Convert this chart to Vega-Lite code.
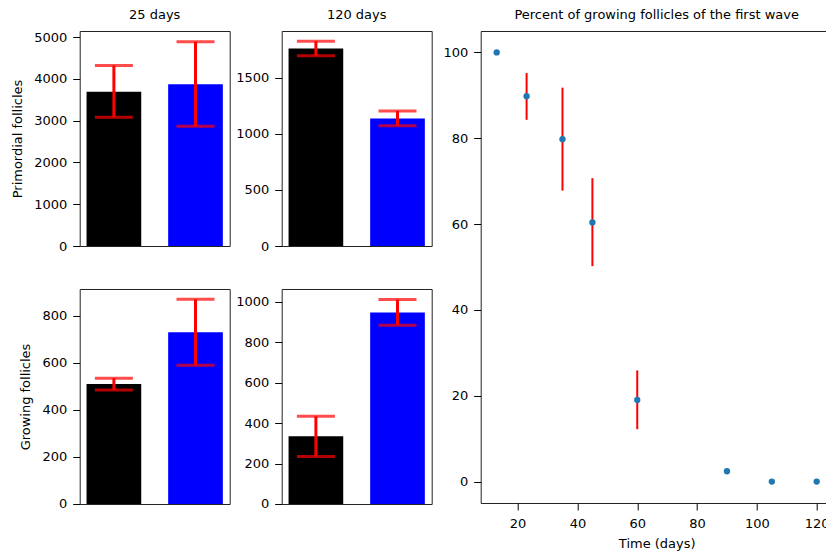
{
  "$schema": "https://vega.github.io/schema/vega-lite/v6.json",
  "padding": {"left": 10.7, "top": 8, "right": 0, "bottom": 0},
  "background": "white",
  "datasets": {
    "bars": [
      {"panel": "p25", "group": "A", "value": 3690, "lo": 3080, "hi": 4320},
      {"panel": "p25", "group": "B", "value": 3870, "lo": 2865, "hi": 4890},
      {"panel": "p120", "group": "A", "value": 1758, "lo": 1693, "hi": 1823},
      {"panel": "p120", "group": "B", "value": 1135, "lo": 1070, "hi": 1202},
      {"panel": "g25", "group": "A", "value": 510, "lo": 485, "hi": 535},
      {"panel": "g25", "group": "B", "value": 730, "lo": 590, "hi": 870},
      {"panel": "g120", "group": "A", "value": 335, "lo": 235, "hi": 434},
      {"panel": "g120", "group": "B", "value": 948, "lo": 885, "hi": 1012}
    ],
    "wave": [
      {"t": 13, "pct": 100, "lo": null, "hi": null},
      {"t": 23, "pct": 89.8, "lo": 84.3, "hi": 95.2},
      {"t": 35, "pct": 79.8, "lo": 67.8, "hi": 91.8},
      {"t": 45, "pct": 60.4, "lo": 50.2, "hi": 70.7},
      {"t": 60, "pct": 19, "lo": 12.2, "hi": 25.9},
      {"t": 90, "pct": 2.4, "lo": null, "hi": null},
      {"t": 105, "pct": 0, "lo": null, "hi": null},
      {"t": 120, "pct": 0, "lo": null, "hi": null}
    ]
  },
  "config": {
    "font": "DejaVu Sans",
    "view": {"stroke": "#222", "strokeWidth": 1},
    "axis": {
      "labelFont": "DejaVu Sans", "labelFontSize": 13, "labelColor": "#000",
      "titleFont": "DejaVu Sans", "titleFontSize": 13, "titleFontWeight": "normal", "titleColor": "#000",
      "tickColor": "#000", "tickSize": 7, "tickWidth": 1, "grid": false, "domain": false,
      "labelPadding": 6, "format": "d"
    },
    "title": {"font": "DejaVu Sans", "fontSize": 13, "fontWeight": "normal", "color": "#000", "anchor": "middle", "baseline": "alphabetic", "offset": 9},
    "bar": {"stroke": null},
    "tick": {"color": "red", "thickness": 3, "size": 38},
    "rule": {"color": "red"}
  },
  "spacing": 9,
  "hconcat": [
    {
      "spacing": 4,
      "hconcat": [
        {
          "spacing": 34,
          "vconcat": [
            {
              "width": 150, "height": 215,
              "title": "25 days",
              "data": {"name": "bars"},
              "transform": [{"filter": "datum.panel === 'p25'"}],
              "encoding": {
                "x": {"field": "group", "type": "nominal", "axis": null, "scale": {"paddingInner": 0.33, "paddingOuter": 0.084}}
              },
              "layer": [
                {"mark": "bar", "encoding": {
                  "y": {"field": "value", "type": "quantitative", "scale": {"domain": [0, 5145], "nice": false}, "axis": {"title": "Primordial follicles", "values": [0, 1000, 2000, 3000, 4000, 5000], "titlePadding": 9}},
                  "color": {"field": "group", "type": "nominal", "scale": {"domain": ["A", "B"], "range": ["#000000", "#0000ff"]}, "legend": null}}},
                {"mark": {"type": "rule", "strokeWidth": 3}, "encoding": {"y": {"field": "lo", "type": "quantitative"}, "y2": {"field": "hi"}}},
                {"mark": "tick", "encoding": {"y": {"field": "lo", "type": "quantitative"}}},
                {"mark": "tick", "encoding": {"y": {"field": "hi", "type": "quantitative"}}}
              ]
            },
            {
              "width": 150, "height": 215,
              "data": {"name": "bars"},
              "transform": [{"filter": "datum.panel === 'g25'"}],
              "encoding": {
                "x": {"field": "group", "type": "nominal", "axis": null, "scale": {"paddingInner": 0.33, "paddingOuter": 0.084}}
              },
              "layer": [
                {"mark": "bar", "encoding": {
                  "y": {"field": "value", "type": "quantitative", "scale": {"domain": [0, 914], "nice": false}, "axis": {"title": "Growing follicles", "values": [0, 200, 400, 600, 800], "titlePadding": 9}},
                  "color": {"field": "group", "type": "nominal", "scale": {"domain": ["A", "B"], "range": ["#000000", "#0000ff"]}, "legend": null}}},
                {"mark": {"type": "rule", "strokeWidth": 3}, "encoding": {"y": {"field": "lo", "type": "quantitative"}, "y2": {"field": "hi"}}},
                {"mark": "tick", "encoding": {"y": {"field": "lo", "type": "quantitative"}}},
                {"mark": "tick", "encoding": {"y": {"field": "hi", "type": "quantitative"}}}
              ]
            }
          ]
        },
        {
          "spacing": 34,
          "vconcat": [
            {
              "width": 150, "height": 215,
              "title": "120 days",
              "data": {"name": "bars"},
              "transform": [{"filter": "datum.panel === 'p120'"}],
              "encoding": {
                "x": {"field": "group", "type": "nominal", "axis": null, "scale": {"paddingInner": 0.33, "paddingOuter": 0.084}}
              },
              "layer": [
                {"mark": "bar", "encoding": {
                  "y": {"field": "value", "type": "quantitative", "scale": {"domain": [0, 1914], "nice": false}, "axis": {"title": null, "values": [0, 500, 1000, 1500]}},
                  "color": {"field": "group", "type": "nominal", "scale": {"domain": ["A", "B"], "range": ["#000000", "#0000ff"]}, "legend": null}}},
                {"mark": {"type": "rule", "strokeWidth": 3}, "encoding": {"y": {"field": "lo", "type": "quantitative"}, "y2": {"field": "hi"}}},
                {"mark": "tick", "encoding": {"y": {"field": "lo", "type": "quantitative"}}},
                {"mark": "tick", "encoding": {"y": {"field": "hi", "type": "quantitative"}}}
              ]
            },
            {
              "width": 150, "height": 215,
              "data": {"name": "bars"},
              "transform": [{"filter": "datum.panel === 'g120'"}],
              "encoding": {
                "x": {"field": "group", "type": "nominal", "axis": null, "scale": {"paddingInner": 0.33, "paddingOuter": 0.084}}
              },
              "layer": [
                {"mark": "bar", "encoding": {
                  "y": {"field": "value", "type": "quantitative", "scale": {"domain": [0, 1064], "nice": false}, "axis": {"title": null, "values": [0, 200, 400, 600, 800, 1000]}},
                  "color": {"field": "group", "type": "nominal", "scale": {"domain": ["A", "B"], "range": ["#000000", "#0000ff"]}, "legend": null}}},
                {"mark": {"type": "rule", "strokeWidth": 3}, "encoding": {"y": {"field": "lo", "type": "quantitative"}, "y2": {"field": "hi"}}},
                {"mark": "tick", "encoding": {"y": {"field": "lo", "type": "quantitative"}}},
                {"mark": "tick", "encoding": {"y": {"field": "hi", "type": "quantitative"}}}
              ]
            }
          ]
        }
      ]
    },
    {
      "width": 352, "height": 472,
      "title": "Percent of growing follicles of the first wave",
      "data": {"name": "wave"},
      "encoding": {
        "x": {"field": "t", "type": "quantitative", "scale": {"domain": [7.65, 125.35], "nice": false, "zero": false}, "axis": {"title": "Time (days)", "values": [20, 40, 60, 80, 100, 120], "labelPadding": 7.5, "titlePadding": 7.5}}
      },
      "layer": [
        {"transform": [{"filter": "datum.lo != null"}], "mark": {"type": "rule", "strokeWidth": 2}, "encoding": {"y": {"field": "lo", "type": "quantitative"}, "y2": {"field": "hi"}}},
        {"mark": {"type": "circle", "size": 40, "opacity": 1, "color": "#1f77b4"}, "encoding": {
          "y": {"field": "pct", "type": "quantitative", "scale": {"domain": [-5, 105], "nice": false, "zero": false}, "axis": {"title": null, "values": [0, 20, 40, 60, 80, 100]}}}}
      ]
    }
  ]
}
